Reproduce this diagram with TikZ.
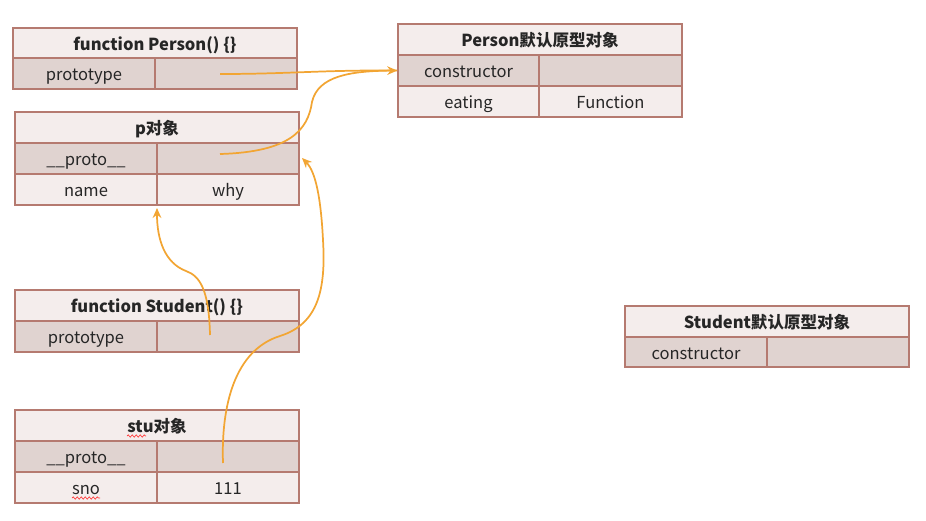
\documentclass[tikz,border=0pt]{standalone}
\usepackage{fontspec}
\setmainfont{Noto Sans CJK SC}
\usetikzlibrary{arrows.meta,decorations.pathmorphing}
\definecolor{bord}{HTML}{B57A70}
\definecolor{lite}{HTML}{F4EDEC}
\definecolor{dark}{HTML}{E0D3D0}
\definecolor{arr}{HTML}{F2A533}
\tikzset{
  cellbase/.style={draw=bord, line width=1.2pt, inner sep=0pt, text height=12pt, text depth=1pt, font=\fontsize{12.4}{14}\selectfont, text=black!85},
  ttl/.style={cellbase, fill=lite, font=\fontsize{12.4}{14}\selectfont\bfseries},
  lt/.style={cellbase, fill=lite},
  dk/.style={cellbase, fill=dark},
  link/.style={draw=arr, line width=1.3pt},
  linkarr/.style={link, -{Stealth[length=7.5pt,width=6.5pt]}},
  squig/.style={draw=red!80, line width=0.5pt, decorate, decoration={snake, amplitude=0.8pt, segment length=3pt}}
}
\newcommand\tcell[7]{%
  \pgfmathsetmacro{\cw}{(#5-#3)*0.75}%
  \pgfmathsetmacro{\ch}{(#6-#4)*0.75}%
  \node[#1, minimum width=\cw pt, minimum height=\ch pt] (#2) at ({(#3+#5)/2},{(#4+#6)/2}) {#7};}
\begin{document}
\begin{tikzpicture}[x=0.75pt,y=-0.75pt]
\useasboundingbox (0,0) rectangle (926,521);
% function Person
\tcell{ttl}{pf}{13}{28}{297}{58}{function Person() \{\}}
\tcell{dk}{pfk}{13}{58}{155}{89}{prototype}
\tcell{dk}{pfv}{155}{58}{297}{89}{}
% p object
\tcell{ttl}{po}{15}{112}{299}{143}{p对象}
\tcell{dk}{pok}{15}{143}{157}{174}{\_\_proto\_\_}
\tcell{dk}{pov}{157}{143}{299}{174}{}
\tcell{lt}{pnk}{15}{174}{157}{205}{name}
\tcell{lt}{pnv}{157}{174}{299}{205}{why}
% Person prototype object
\tcell{ttl}{pp}{398}{24}{682}{55}{Person默认原型对象}
\tcell{dk}{ppk}{398}{55}{539}{86}{constructor}
\tcell{dk}{ppv}{539}{55}{682}{86}{}
\tcell{lt}{pek}{398}{86}{539}{117}{eating}
\tcell{lt}{pev}{539}{86}{682}{117}{Function}
% function Student
\tcell{ttl}{sf}{15}{290}{299}{321}{function Student() \{\}}
\tcell{dk}{sfk}{15}{321}{157}{352}{prototype}
\tcell{dk}{sfv}{157}{321}{299}{352}{}
% stu object
\tcell{ttl}{so}{15}{410}{299}{441}{stu对象}
\tcell{dk}{sok}{15}{441}{157}{472}{\_\_proto\_\_}
\tcell{dk}{sov}{157}{441}{299}{472}{}
\tcell{lt}{snk}{15}{472}{157}{503}{sno}
\tcell{lt}{snv}{157}{472}{299}{503}{111}
% Student prototype object
\tcell{ttl}{sp}{625}{306}{909}{337}{Student默认原型对象}
\tcell{dk}{spk}{625}{337}{767}{367}{constructor}
\tcell{dk}{spv}{767}{337}{909}{367}{}
% spell-check squiggles
\draw[squig] (127,436) -- (146,436);
\draw[squig] (72,498) -- (100,498);
% connectors
\coordinate (s1) at (220,74);
\coordinate (s2) at (220,154);
\coordinate (s3) at (210,335);
\coordinate (s4) at (223,463);
\coordinate (tipC) at (157,208);
\coordinate (tipD) at (302,158);
\draw[link] (s1) .. controls (290,74) and (320,70) .. (ppk.west);
\draw[linkarr] (s2) .. controls (290,152) and (308,130) .. (312,102)
   .. controls (318,76) and (350,71) .. (ppk.west);
\draw[linkarr] (s3) .. controls (209,290) and (200,276) .. (186,271)
   .. controls (165,263) and (157,240) .. (tipC);
\draw[linkarr] (s4) .. controls (221,405) and (235,350) .. (280,336)
   .. controls (318,324) and (326,290) .. (323,240)
   .. controls (321,200) and (316,172) .. (tipD);
\end{tikzpicture}
\end{document}
